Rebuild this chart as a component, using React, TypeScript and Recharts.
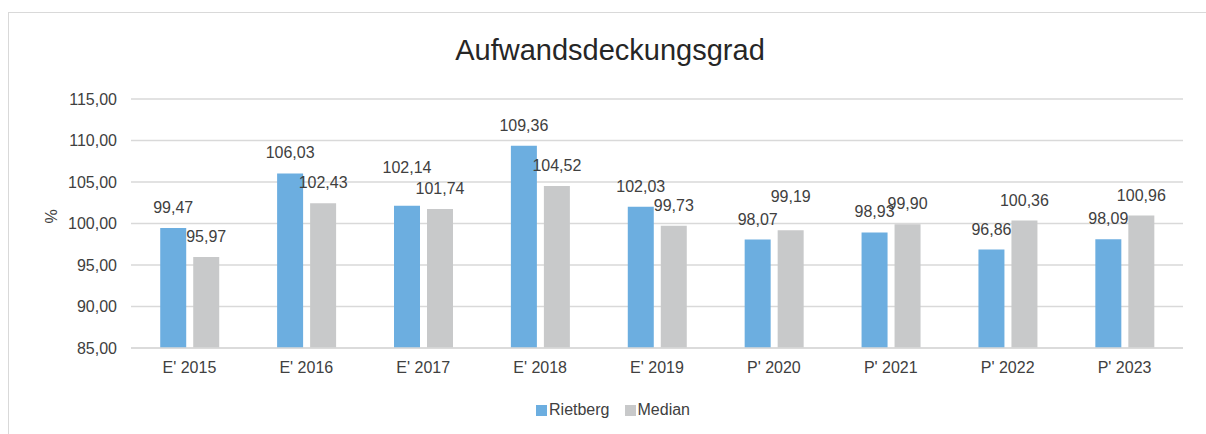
import React from 'react';
import { BarChart, Bar, XAxis, YAxis, CartesianGrid, Legend, LabelList } from 'recharts';

const categories = ["E' 2015", "E' 2016", "E' 2017", "E' 2018", "E' 2019", "P' 2020", "P' 2021", "P' 2022", "P' 2023"];
const rietberg = [99.47, 106.03, 102.14, 109.36, 102.03, 98.07, 98.93, 96.86, 98.09];
const median = [95.97, 102.43, 101.74, 104.52, 99.73, 99.19, 99.9, 100.36, 100.96];
const yTicks = [85, 90, 95, 100, 105, 110, 115];

// extra label lift (px) where labels were moved manually in the original
const rietbergLabelLift = [0, 0, 18, 0, 0, 0, 0, 0, 0];
const medianLabelLift = [0, 0, 0, 0, 0, 13, 0, 0, 0];

const data = categories.map((c, i) => ({ name: c, Rietberg: rietberg[i], Median: median[i] }));
const fmt = (v: any) => Number(v).toFixed(2).replace('.', ',');
const FONT = '"Liberation Sans", Arial, sans-serif';
const TEXT = '#404040';
const BLUE = '#6caee0';
const GRAY = '#c8c9ca';
const FS = 16;

const makeLabel = (lift: number[]) => (props: any) => {
  const { x, y, width, value, index } = props;
  const cx = Number(x) + Number(width) / 2;
  const ty = Number(y) - 15 - (lift[index] || 0);
  return (
    <text x={cx} y={ty} textAnchor="middle" fill={TEXT} fontSize={FS} fontFamily={FONT}>
      {fmt(value)}
    </text>
  );
};

const LegendContent = () => (
  <div style={{ display: 'flex', justifyContent: 'center', alignItems: 'center', fontFamily: FONT, fontSize: FS, color: TEXT }}>
    <span style={{ display: 'inline-block', width: 11, height: 11, background: BLUE, marginRight: 2 }} />
    <span style={{ marginRight: 15 }}>Rietberg</span>
    <span style={{ display: 'inline-block', width: 11, height: 11, background: GRAY, marginRight: 2 }} />
    <span>Median</span>
  </div>
);

export default function App() {
  return (
    <div style={{ position: 'absolute', left: 0, top: 0, width: 1206, height: 434, fontFamily: FONT, overflow: 'hidden' }}>
      <div style={{ position: 'absolute', left: 8, top: 12, width: 1204, height: 440, border: '1px solid #d9d9d9', boxSizing: 'border-box' }} />
      <div style={{ position: 'absolute', left: 8, width: 1204, top: 32, textAlign: 'center', fontSize: 29, color: '#262626', lineHeight: '36px' }}>Aufwandsdeckungsgrad</div>
      <div style={{ position: 'absolute', left: 0, top: 0 }}>
        <BarChart width={1206} height={434} data={data} margin={{ top: 99, right: 23, bottom: 38, left: 0 }} barGap={7} barCategoryGap="25%">
          <CartesianGrid vertical={false} stroke="#d9d9d9" strokeWidth={1.5} />
          <XAxis dataKey="name" tickLine={false} axisLine={{ stroke: '#d9d9d9', strokeWidth: 1.5 }} tickMargin={8} tick={{ fill: TEXT, fontSize: FS, fontFamily: FONT }} height={30} />
          <YAxis domain={[85, 115]} ticks={yTicks} tickFormatter={fmt} axisLine={false} tickLine={false} tickMargin={8} width={131} tick={{ fill: TEXT, fontSize: FS, fontFamily: FONT }}
            label={{ value: '%', angle: -90, position: 'insideLeft', offset: 51, fill: TEXT, fontSize: FS, fontFamily: FONT }} />
          <Legend verticalAlign="bottom" align="center" content={<LegendContent />}
            wrapperStyle={{ top: 401, bottom: 'auto', left: 8, width: 1210 }} />
          <Bar dataKey="Rietberg" fill={BLUE} isAnimationActive={false}>
            <LabelList dataKey="Rietberg" content={makeLabel(rietbergLabelLift)} />
          </Bar>
          <Bar dataKey="Median" fill={GRAY} isAnimationActive={false}>
            <LabelList dataKey="Median" content={makeLabel(medianLabelLift)} />
          </Bar>
        </BarChart>
      </div>
    </div>
  );
}
